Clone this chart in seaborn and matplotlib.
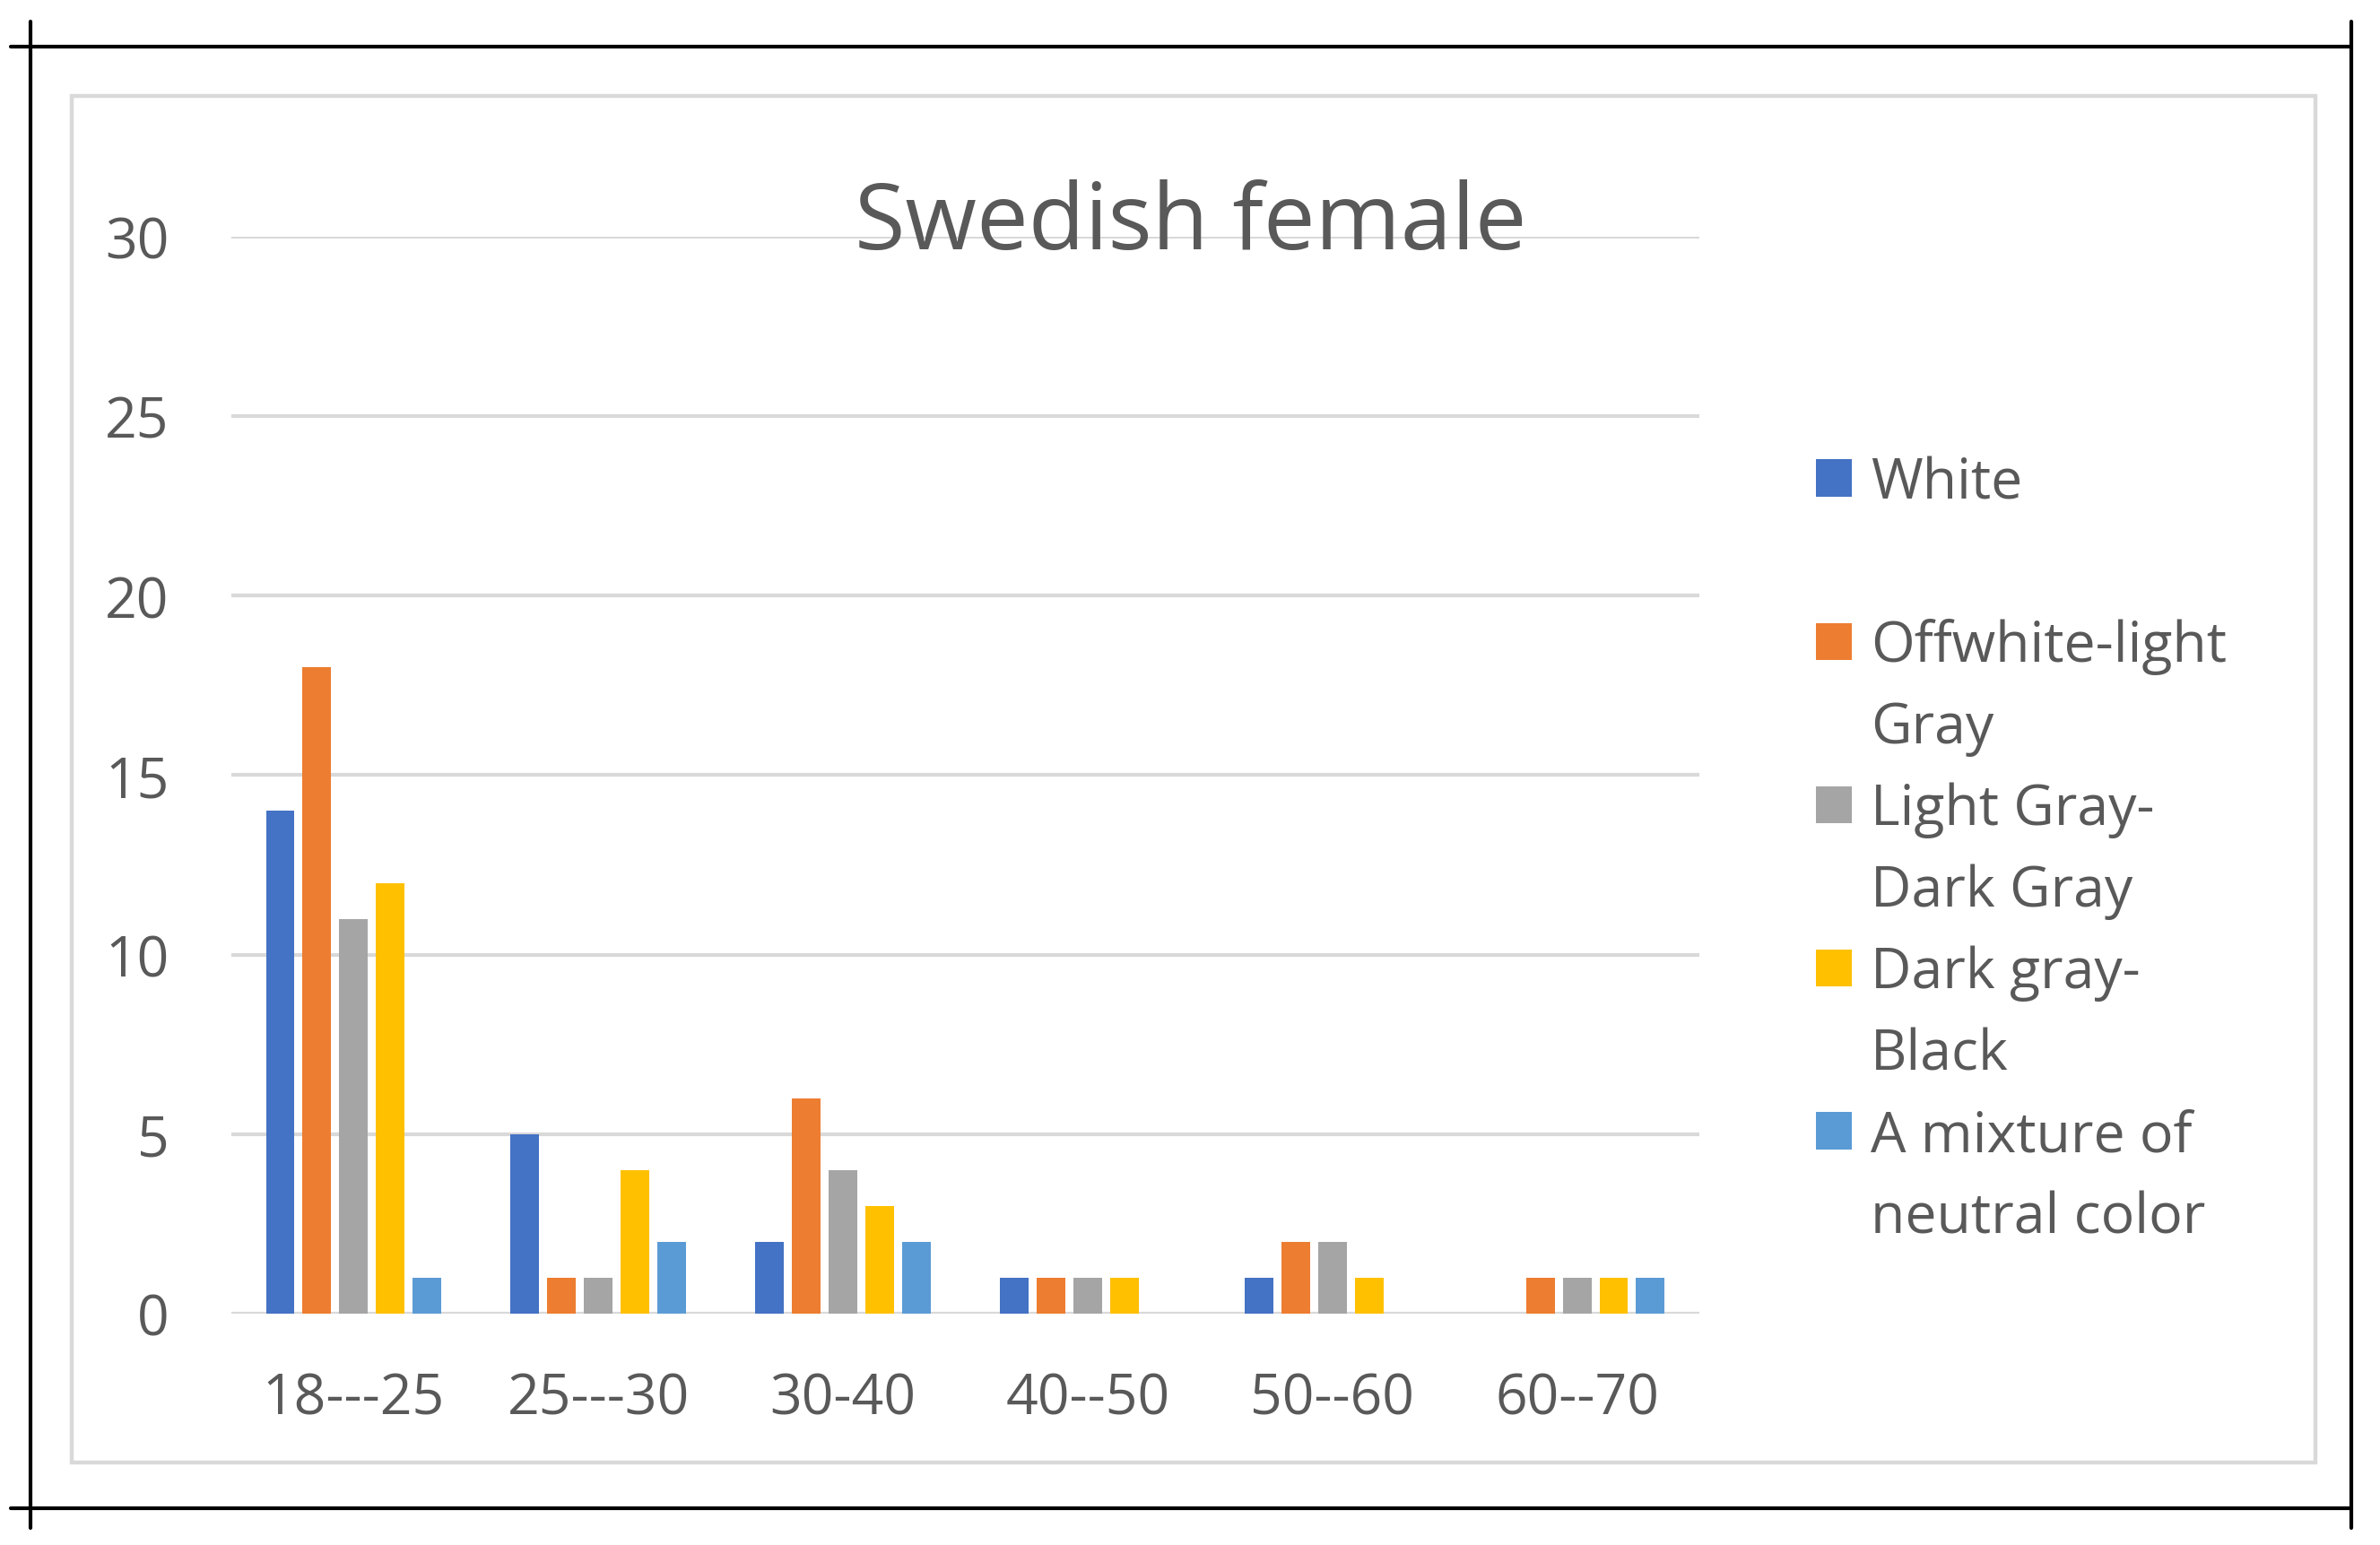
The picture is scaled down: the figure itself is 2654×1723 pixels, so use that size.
import pandas as pd
import matplotlib.pyplot as plt
import seaborn as sns
from matplotlib.patches import Patch, Rectangle
from matplotlib.lines import Line2D

# Data
age_groups = ['18---25', '25---30', '30-40', '40--50', '50--60', '60--70']
series = ['White', 'Offwhite-light Gray', 'Light Gray-Dark Gray', 'Dark gray-Black',
          'A mixture of neutral color']
white = [14, 5, 2, 1, 1, 0]
offwhite_light_gray = [18, 1, 6, 1, 2, 1]
light_gray_dark_gray = [11, 1, 4, 1, 2, 1]
dark_gray_black = [12, 4, 3, 1, 1, 1]
mixture = [1, 2, 2, 0, 0, 1]
y_ticks = [0, 5, 10, 15, 20, 25, 30]
legend_lines = [['White', ' '], ['Offwhite-light', 'Gray'], ['Light Gray-', 'Dark Gray'],
                ['Dark gray-', 'Black'], ['A mixture of', 'neutral color']]
colors = ['#4472C4', '#ED7D31', '#A5A5A5', '#FFC000', '#5B9BD5']
title = 'Swedish female'

TEXT = '#595959'
GRID = '#D9D9D9'


def build_frame():
    rows = []
    for name, values in zip(series, [white, offwhite_light_gray, light_gray_dark_gray,
                                     dark_gray_black, mixture]):
        for age, v in zip(age_groups, values):
            rows.append({'age': age, 'color': name, 'count': v})
    return pd.DataFrame(rows)


def draw_page_frame(fig):
    # black cut lines around the figure and the light chart border
    for xs, ys in [((0.0045, 0.9879), (0.9693, 0.9693)),
                   ((0.0045, 0.9879), (0.0238, 0.0238)),
                   ((0.0128, 0.0128), (0.011, 0.9855)),
                   ((0.9879, 0.9879), (0.011, 0.9855))]:
        fig.add_artist(Line2D(xs, ys, transform=fig.transFigure, color='black', lw=1.5))
    fig.add_artist(Rectangle((0.0301, 0.0534), 0.9427, 0.884, transform=fig.transFigure,
                             fill=False, edgecolor=GRID, lw=1.6))


sns.set_theme(style='white')
plt.rcParams['font.family'] = ['Open Sans', 'DejaVu Sans']

df = build_frame()
fig = plt.figure(figsize=(13.27, 8.62), dpi=200)
draw_page_frame(fig)

ax = fig.add_axes([0.0972, 0.1497, 0.6168, 0.6966])
sns.barplot(data=df, x='age', y='count', hue='color', order=age_groups, hue_order=series,
            palette=colors, saturation=1, width=0.75, gap=0.22, linewidth=0,
            legend=False, ax=ax)

ax.set_xlim(-0.5, len(age_groups) - 0.5)
ax.set_ylim(0, 30)
ax.set_yticks(y_ticks)
ax.set_axisbelow(True)
ax.yaxis.grid(True, color=GRID, lw=1.5)
ax.xaxis.grid(False)
for s in ax.spines.values():
    s.set_visible(False)
ax.set_xlabel('')
ax.set_ylabel('')
ax.tick_params(axis='both', length=0, labelsize=22.5, labelcolor=TEXT)
ax.tick_params(axis='y', pad=25)
ax.tick_params(axis='x', pad=23)

fig.text(0.5004, 0.8387, title, ha='center', va='baseline', fontsize=37, color=TEXT)

# legend: one row per text line, colour box only on the first line of each entry
handles, labels = [], []
for c, lines in zip(colors, legend_lines):
    handles.append(Patch(facecolor=c, edgecolor='none'))
    labels.append(lines[0])
    for extra in lines[1:]:
        handles.append(Patch(facecolor='none', edgecolor='none'))
        labels.append(extra)
fig.legend(handles, labels, loc='upper left', bbox_to_anchor=(0.763, 0.705),
           frameon=False, fontsize=22.5, handlelength=0.64, handleheight=0.64,
           handletextpad=0.33, labelspacing=0.455, borderpad=0, borderaxespad=0,
           labelcolor=TEXT)

fig.savefig('out.png', dpi=200)
